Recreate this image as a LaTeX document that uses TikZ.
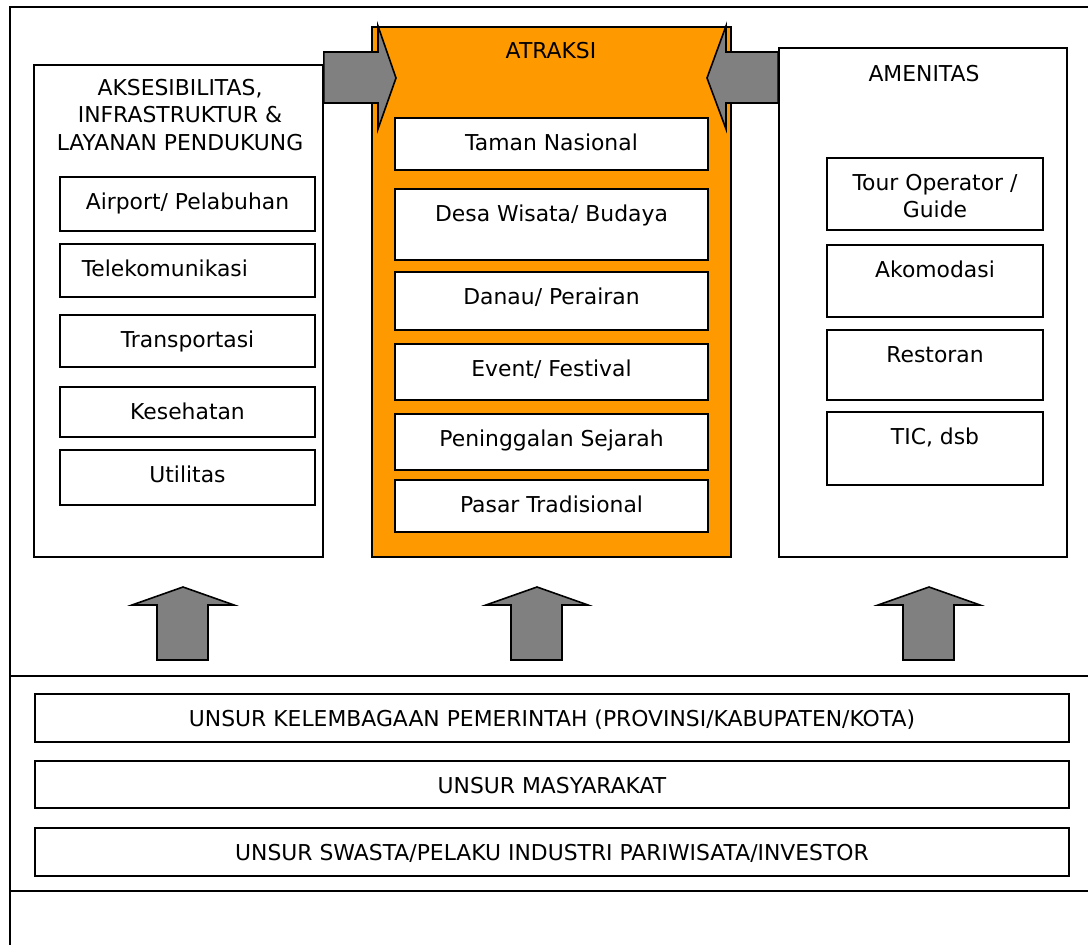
\documentclass[tikz,border=0pt]{standalone}
\usepackage{fontspec}
\setmainfont{DejaVu Sans}
\usetikzlibrary{fit}

\definecolor{atrorange}{HTML}{FF9900}
\definecolor{arrgray}{HTML}{808080}

\tikzset{
    box/.style={draw=black, line width=1.2pt, fill=white, inner sep=0pt},
    lbl/.style={anchor=center, yshift=-18.75pt, text height=12pt, text depth=0pt, fill=none},
    item/.style={box, label={[lbl]north:#1}},
    blockarrow/.style={draw=black, line width=1.2pt, fill=arrgray, line join=miter}
}

\begin{document}
\begin{tikzpicture}[x=0.75pt, y=-0.75pt, font=\fontsize{16.4}{20.3}\selectfont]
    \clip (0,0) rectangle (1088,945);
    \draw[line width=1.2pt] (10,7) rectangle (1110,970);
    \draw[line width=1.2pt] (10,676) rectangle (1110,891);

    % aksesibilitas
    \node[box, fit={(34,65) (323,557)}] (akses) {};
    \node[align=center] (aksesT) at (180,115) {AKSESIBILITAS,\\INFRASTRUKTUR \&\\LAYANAN PENDUKUNG};
    \node[item={Airport/ Pelabuhan}, fit={(60,177) (315,231)}] (airport) {};
    \node[item={\hspace*{-34pt}Telekomunikasi}, fit={(60,244) (315,297)}] (telekom) {};
    \node[item=Transportasi, fit={(60,315) (315,367)}] (transport) {};
    \node[item=Kesehatan, fit={(60,387) (315,437)}] (kesehatan) {};
    \node[item=Utilitas, fit={(60,450) (315,505)}] (utilitas) {};

    % atraksi
    \node[box, fill=atrorange, fit={(372,27) (731,557)}] (atraksi) {};
    \node (atraksiT) at (551,51) {ATRAKSI};
    \node[item={Taman Nasional}, fit={(395,118) (708,170)}] (taman) {};
    \node[item={Desa Wisata/ Budaya}, fit={(395,189) (708,260)}] (desa) {};
    \node[item={Danau/ Perairan}, fit={(395,272) (708,330)}] (danau) {};
    \node[item={Event/ Festival}, fit={(395,344) (708,400)}] (event) {};
    \node[item={Peninggalan Sejarah}, fit={(395,414) (708,470)}] (sejarah) {};
    \node[item={Pasar Tradisional}, fit={(395,480) (708,532)}] (pasar) {};

    % amenitas
    \node[box, fit={(779,48) (1067,557)}] (amenitas) {};
    \node (amenitasT) at (924,74) {AMENITAS};
    \node[box, fit={(827,158) (1043,230)},
        label={[lbl, align=center, text height=, text depth=, yshift=-10.5pt]north:Tour Operator /\\Guide}] (tour) {};
    \node[item=Akomodasi, fit={(827,245) (1043,317)}] (akomodasi) {};
    \node[item=Restoran, fit={(827,330) (1043,400)}] (restoran) {};
    \node[item={TIC, dsb}, fit={(827,412) (1043,485)}] (tic) {};

    % arrows
    \path[blockarrow] (akses.east |- 0,52) -- (378,52) -- (378,26) -- (396,78)
        -- (378,129) -- (378,103) -- (akses.east |- 0,103) -- cycle;
    \path[blockarrow] (amenitas.west |- 0,52) -- (726,52) -- (726,26) -- (707,78)
        -- (726,129) -- (726,103) -- (amenitas.west |- 0,103) -- cycle;
    \foreach \c in {183,537,929}
        \path[blockarrow] (\c-26,660) -- (\c-26,605) -- (\c-51,605) -- (\c,587)
            -- (\c+51,605) -- (\c+25,605) -- (\c+25,660) -- cycle;

    % unsur
    \node[item={UNSUR KELEMBAGAAN PEMERINTAH (PROVINSI/KABUPATEN/KOTA)}, fit={(35,694) (1069,742)}] (pemerintah) {};
    \node[item={UNSUR MASYARAKAT}, fit={(35,761) (1069,808)}] (masyarakat) {};
    \node[item={UNSUR SWASTA/PELAKU INDUSTRI PARIWISATA/INVESTOR}, fit={(35,828) (1069,876)}] (swasta) {};
\end{tikzpicture}
\end{document}
